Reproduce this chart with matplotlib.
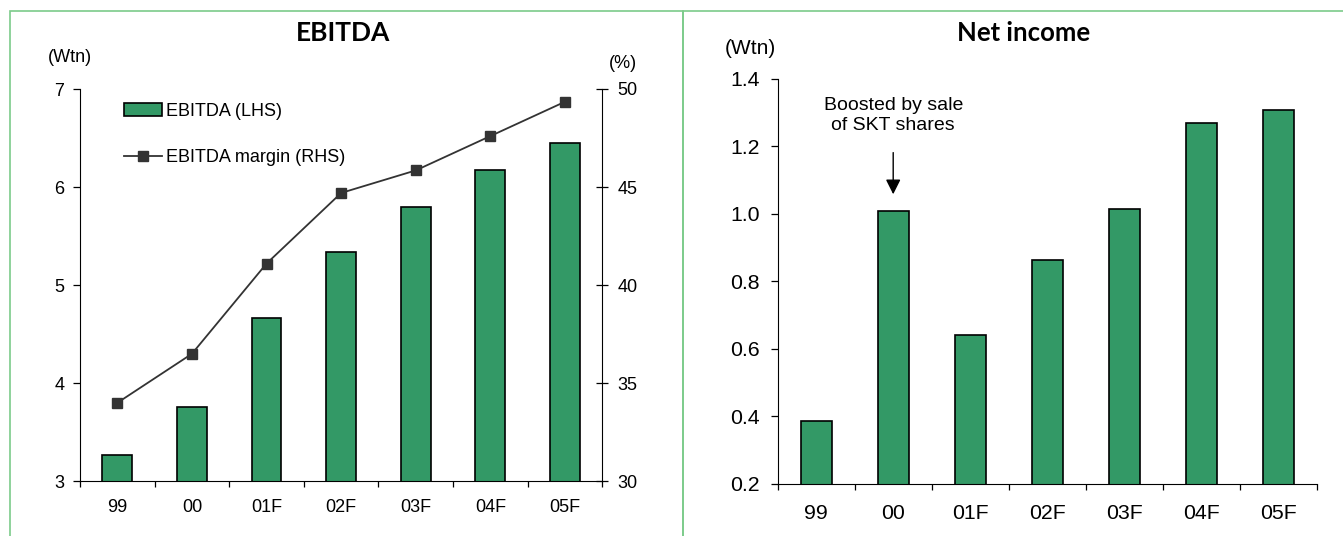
import matplotlib
matplotlib.use('Agg')
import matplotlib.pyplot as plt
import numpy as np
from matplotlib.patches import Rectangle

plt.rcParams['font.family'] = ['Liberation Sans', 'DejaVu Sans']

# data
years = ['99', '00', '01F', '02F', '03F', '04F', '05F']
ebitda = [3.27, 3.76, 4.66, 5.34, 5.80, 6.17, 6.45]
ebitda_margin = [34.0, 36.5, 41.1, 44.7, 45.85, 47.6, 49.35]
net_income = [0.385, 1.01, 0.642, 0.863, 1.014, 1.271, 1.309]

W, H = 1343, 536
BAR = '#339966'
BORDER = '#7ccb8a'


def fx(px):
    return px / W


def fy(py):
    return (H - py) / H


fig = plt.figure(figsize=(W / 100, H / 100), dpi=100)

# panel borders
for x0, x1 in [(9.5, 683), (683, 1360)]:
    fig.add_artist(Rectangle((fx(x0), fy(560)), fx(x1) - fx(x0), fy(11) - fy(560),
                             transform=fig.transFigure, fill=False,
                             edgecolor=BORDER, linewidth=1.2))

x = np.arange(len(years))


def setup_xaxis(ax, size, pad):
    ax.set_xlim(-0.5, len(years) - 0.5)
    ax.set_xticks(np.arange(len(years) + 1) - 0.5)
    ax.set_xticklabels([])
    ax.set_xticks(x, minor=True)
    ax.set_xticklabels(years, minor=True, fontsize=size)
    ax.tick_params(axis='x', which='major', direction='out', length=4.5, width=0.9)
    ax.tick_params(axis='x', which='minor', length=0, pad=pad)


# ---- left: EBITDA ----
ax = fig.add_axes([fx(80), fy(481.3), fx(602.3) - fx(80), fy(89) - fy(481.3)])
bars = ax.bar(x, ebitda, width=0.4, color=BAR, edgecolor='black', linewidth=1.2,
              label='EBITDA (LHS)', zorder=2)
ax.set_ylim(3, 7)
ax.set_yticks([3, 4, 5, 6, 7])
ax.tick_params(axis='y', direction='out', length=4.8, width=0.9, pad=6.5, labelsize=13)
setup_xaxis(ax, 13, 13)
ax.spines['top'].set_visible(False)
ax.spines['right'].set_visible(False)

ax2 = ax.twinx()
line, = ax2.plot(x, ebitda_margin, color='#333333', lw=1.3, marker='s', markersize=7,
                 label='EBITDA margin (RHS)', zorder=3)
ax2.set_ylim(30, 50)
ax2.set_yticks([30, 35, 40, 45, 50])
ax2.tick_params(axis='y', direction='inout', length=9, width=0.9, pad=6.3, labelsize=13)
ax2.spines['top'].set_visible(False)
ax2.spines['left'].set_visible(False)
ax2.spines['bottom'].set_visible(False)

ax2.legend([bars, line], ['EBITDA (LHS)', 'EBITDA margin (RHS)'], loc='upper left',
           bbox_to_anchor=(fx(124), fy(103)), bbox_transform=fig.transFigure,
           frameon=False, fontsize=13, handlelength=2.1, handletextpad=0.2,
           labelspacing=1.62, borderpad=0, borderaxespad=0)

fig.text(fx(343), fy(33), 'EBITDA', ha='center', va='center', fontsize=19,
         fontweight='bold', family='Lato')
fig.text(fx(70), fy(58), '(Wtn)', ha='center', va='center', fontsize=13)
fig.text(fx(623), fy(63), '(%)', ha='center', va='center', fontsize=13)

# ---- right: Net income ----
bx = fig.add_axes([fx(777.7), fy(483.7), fx(1316.7) - fx(777.7), fy(79) - fy(483.7)])
bx.bar(x, net_income, width=0.4, color=BAR, edgecolor='black', linewidth=1.2, zorder=2)
bx.set_ylim(0.2, 1.4)
bx.set_yticks([0.2, 0.4, 0.6, 0.8, 1.0, 1.2, 1.4])
bx.set_yticklabels(['0.2', '0.4', '0.6', '0.8', '1.0', '1.2', '1.4'])
bx.tick_params(axis='y', direction='out', length=5, width=0.9, pad=7.7, labelsize=15.3)
setup_xaxis(bx, 15.3, 14.6)
bx.spines['top'].set_visible(False)
bx.spines['right'].set_visible(False)

bx.annotate('', xy=(1, 1.05), xytext=(1, 1.19),
            arrowprops=dict(arrowstyle='-|>,head_length=0.6,head_width=0.3',
                            color='black', lw=1, mutation_scale=15))
bx.text(1, 1.292, 'Boosted by sale\nof SKT shares', ha='center', va='center',
        fontsize=14, linespacing=1.25)

fig.text(fx(1024), fy(33), 'Net income', ha='center', va='center', fontsize=18.5,
         fontweight='bold', family='Lato')
fig.text(fx(750), fy(48), '(Wtn)', ha='center', va='center', fontsize=15)

fig.savefig('out.png', dpi=100)
